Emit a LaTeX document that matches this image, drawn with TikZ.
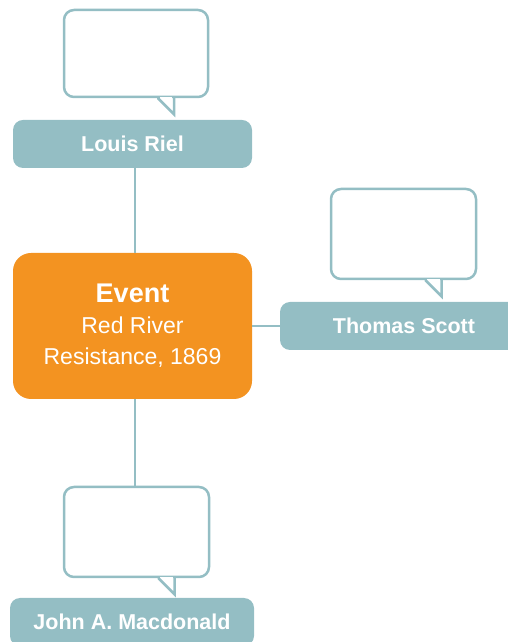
\documentclass[tikz,border=0pt]{standalone}
\usepackage{fontspec}
\setmainfont{Liberation Sans}
\usetikzlibrary{calc}
\definecolor{tealgrey}{HTML}{94BEC4}
\definecolor{eventorange}{HTML}{F39321}

% speech-bubble tail hanging under the bottom edge of a bubble node
\newcommand\bubbletail[1]{%
  \fill[white] ($(#1.south)+(23.6,-1.6)$) rectangle ($(#1.south)+(36.4,1.6)$);
  \draw[tail] ($(#1.south)+(21,0)$) -- ($(#1.south)+(22,0)$)
     -- ($(#1.south)+(38,-16)$) -- ($(#1.south)+(38,0.5)$);
}

\begin{document}
\begin{tikzpicture}[x=1pt,y=1pt,
  person/.style={fill=tealgrey, rounded corners=10, text=white, inner sep=0pt,
    minimum height=48, font=\fontsize{21.5}{24}\selectfont\bfseries},
  event/.style={fill=eventorange, rounded corners=18, text=white, inner sep=0pt,
    minimum width=239, minimum height=146, align=center,
    font=\fontsize{23}{31}\selectfont},
  bubble/.style={draw=tealgrey, line width=2.5pt, rounded corners=10,
    fill=white, inner sep=0pt},
  tail/.style={draw=tealgrey, line width=2.5pt, line join=miter},
  link/.style={draw=tealgrey, line width=2pt}]
\useasboundingbox (0,0) rectangle (508,642);
\clip (0,0) rectangle (508,642);

% central event
\node[event] (ev) at (132.5,316)
  {{\fontsize{27}{34}\selectfont\bfseries Event}\\Red River\\Resistance, 1869};

% people linked to the event
\node[person, minimum width=239] (riel) at (132.5,498) {Louis Riel};
\node[person, minimum width=248] (scott) at (404,316) {Thomas Scott};
\node[person, minimum width=244] (macd) at (132,20) {John A.\ Macdonald};

% empty speech bubbles
\node[bubble, minimum width=144, minimum height=87] (b1) at (136,588.5) {};
\node[bubble, minimum width=145, minimum height=90] (b2) at (403.5,408) {};
\node[bubble, minimum width=145, minimum height=90] (b3) at (136.5,110) {};
\bubbletail{b1}
\bubbletail{b2}
\bubbletail{b3}

% connectors
\coordinate (rielfoot) at ([xshift=2.5pt]riel.south);
\coordinate (evtop) at ([xshift=2.5pt]ev.north);
\coordinate (evfoot) at ([xshift=2.5pt]ev.south);
\draw[link] (rielfoot) -- (evtop);
\draw[link] (ev.east) -- (scott.west);
\draw[link] (evfoot) -- (evfoot |- b3.north);
\end{tikzpicture}
\end{document}
